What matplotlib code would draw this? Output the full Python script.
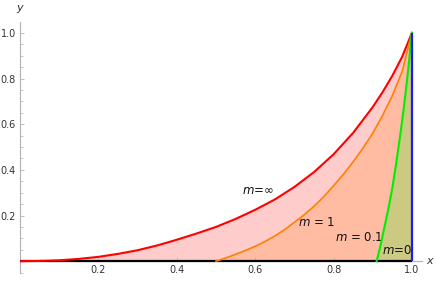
import matplotlib
matplotlib.use("Agg")
import matplotlib.pyplot as plt
from matplotlib.ticker import MultipleLocator

# curves
red_x = [0, 0.05, 0.1, 0.15, 0.2, 0.25, 0.3, 0.35, 0.4, 0.45, 0.5, 0.55, 0.6, 0.65, 0.7,
         0.75, 0.8, 0.85, 0.9, 0.925, 0.95, 0.975, 1.0]
red_y = [0, 0.001, 0.004, 0.010, 0.019, 0.032, 0.048, 0.069, 0.094, 0.121, 0.150, 0.185,
         0.225, 0.270, 0.325, 0.390, 0.468, 0.562, 0.675, 0.740, 0.812, 0.895, 1.0]

orange_x = [0.5, 0.525, 0.55, 0.575, 0.6, 0.625, 0.65, 0.675, 0.7, 0.725, 0.75, 0.775, 0.8,
            0.825, 0.85, 0.875, 0.9, 0.925, 0.95, 0.975, 1.0]
orange_y = [0, 0.014, 0.030, 0.047, 0.065, 0.086, 0.110, 0.138, 0.170, 0.203, 0.240, 0.282,
            0.330, 0.380, 0.435, 0.495, 0.560, 0.638, 0.725, 0.830, 1.0]

green_x = [0.91, 0.92, 0.93, 0.94, 0.95, 0.96, 0.97, 0.98, 0.99, 1.0]
green_y = [0, 0.07, 0.15, 0.23, 0.32, 0.43, 0.55, 0.68, 0.83, 1.0]

blue_x = [1.0, 1.0]
blue_y = [0, 1.0]

base_x = [0, 1.0]
base_y = [0, 0]

labels = ["$m$=∞", "$m$ = 1", "$m$ = 0.1", "$m$=0"]
label_x = [0.606, 0.758, 0.865, 0.962]
label_y = [0.308, 0.169, 0.105, 0.045]

fig = plt.figure(figsize=(4.36, 2.81), dpi=100)
ax = fig.add_axes([20 / 436, 7.7 / 281, 401.7 / 436, 251.6 / 281])

for xs, ys, c in [(red_x, red_y, "#ff0000"), (orange_x, orange_y, "#ff8000"), (green_x, green_y, "#00ff00")]:
    ax.fill_between(xs, ys, 0, color=c, alpha=0.2, linewidth=0)

ax.plot(base_x, base_y, color="black", lw=1.6, solid_capstyle="butt", zorder=3)
ax.plot(red_x, red_y, color="#ff0000", lw=1.5, zorder=4)
ax.plot(orange_x, orange_y, color="#ff8000", lw=1.2, zorder=4)
ax.plot(green_x, green_y, color="#00ee00", lw=1.5, zorder=4)
ax.plot(blue_x, blue_y, color="#1a1aff", lw=1.6, solid_capstyle="butt", zorder=5)

for t, lx, ly in zip(labels, label_x, label_y):
    ax.text(lx, ly, t, fontsize=8.5, ha="center", va="center", color="#111111")

ax.set_xlim(0, 1.025)
ax.set_ylim(-0.053, 1.049)

for s in ["top", "right"]:
    ax.spines[s].set_visible(False)
ax.spines["left"].set_position(("data", 0))
ax.spines["bottom"].set_position(("data", 0))
for s in ["left", "bottom"]:
    ax.spines[s].set_color("#b3b3b3")
    ax.spines[s].set_linewidth(0.8)

ax.xaxis.set_minor_locator(MultipleLocator(0.05))
ax.yaxis.set_minor_locator(MultipleLocator(0.05))
ax.set_xticks([0.2, 0.4, 0.6, 0.8, 1.0])
ax.set_xticklabels(["0.2", "0.4", "0.6", "0.8", "1.0"])
ax.set_yticks([0.2, 0.4, 0.6, 0.8, 1.0])
ax.set_yticklabels(["0.2", "0.4", "0.6", "0.8", "1.0"])
ax.tick_params(which="major", direction="in", length=3, width=0.6, color="#b3b3b3",
               labelsize=7, labelcolor="#333333", pad=3)
ax.tick_params(which="minor", direction="in", length=1.8, width=0.5, color="#b3b3b3")

ax.text(1.045, 0.0, "x", style="italic", fontsize=8, ha="center", va="center",
        color="#333333", clip_on=False)
ax.text(0.0, 1.108, "y", style="italic", fontsize=8, ha="center", va="center",
        color="#333333", clip_on=False)

fig.savefig("out.png", dpi=100)
